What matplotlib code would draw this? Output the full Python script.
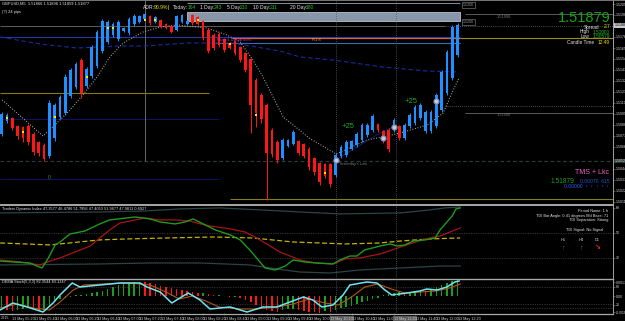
import numpy as np
import matplotlib
matplotlib.use("Agg")
import matplotlib.pyplot as plt
from matplotlib.lines import Line2D
from matplotlib import font_manager

plt.rcParams["font.family"] = ["Liberation Sans", "DejaVu Sans"]
_names = {f.name for f in font_manager.fontManager.ttflist}
NARROW = ["Liberation Sans Narrow" if "Liberation Sans Narrow" in _names else "Liberation Sans",
          "DejaVu Sans"]

W, H = 625, 321
BAR0, STEP = 1.7, 5.3      # pixel x of first bar, pixels per bar
AXR = 613                  # right edge of plotting area (price scale beyond)

# ---------------- price bars (GBPUSD, M5) ----------------
opens = [1.5079, 1.5092, 1.5095, 1.5087, 1.5086, 1.5087, 1.5079, 1.5071, 1.5068, 1.5057,
         1.5075, 1.5096, 1.5100, 1.5117, 1.5126, 1.5153, 1.5127, 1.5137, 1.5147, 1.5162,
         1.5171, 1.5178, 1.5174, 1.5182, 1.5180, 1.5189, 1.5191, 1.5194, 1.5197, 1.5191,
         1.5193, 1.5189, 1.5187, 1.5183, 1.5191, 1.5189, 1.5198, 1.5196, 1.5192, 1.5183,
         1.5178, 1.5179, 1.5174, 1.5170, 1.5172, 1.5166, 1.5160, 1.5154, 1.5133, 1.5118,
         1.5108, 1.5083, 1.5071, 1.5055, 1.5067, 1.5069, 1.5072, 1.5069, 1.5064, 1.5055,
         1.5050, 1.5049, 1.5049, 1.5038, 1.5057, 1.5058, 1.5064, 1.5068, 1.5073, 1.5078,
         1.5083, 1.5089, 1.5082, 1.5083, 1.5083, 1.5087, 1.5075, 1.5087, 1.5090, 1.5095,
         1.5082, 1.5082, 1.5087, 1.5103, 1.5120, 1.5135, 1.5158]
highs = [1.5101, 1.5100, 1.5096, 1.5088, 1.5087, 1.5089, 1.5081, 1.5072, 1.5070, 1.5113,
         1.5110, 1.5118, 1.5139, 1.5145, 1.5151, 1.5155, 1.5146, 1.5168, 1.5183, 1.5194,
         1.5193, 1.5191, 1.5193, 1.5186, 1.5196, 1.5199, 1.5198, 1.5200, 1.5198, 1.5197,
         1.5194, 1.5190, 1.5188, 1.5198, 1.5199, 1.5193, 1.5199, 1.5197, 1.5193, 1.5185,
         1.5180, 1.5181, 1.5175, 1.5171, 1.5173, 1.5167, 1.5161, 1.5155, 1.5135, 1.5120,
         1.5110, 1.5085, 1.5073, 1.5075, 1.5074, 1.5083, 1.5073, 1.5070, 1.5066, 1.5056,
         1.5051, 1.5050, 1.5050, 1.5060, 1.5068, 1.5073, 1.5073, 1.5081, 1.5090, 1.5090,
         1.5099, 1.5090, 1.5083, 1.5085, 1.5095, 1.5088, 1.5090, 1.5100, 1.5108, 1.5110,
         1.5103, 1.5103, 1.5120, 1.5143, 1.5163, 1.5188, 1.5190]
lows = [1.5077, 1.5090, 1.5083, 1.5074, 1.5071, 1.5068, 1.5058, 1.5057, 1.5052, 1.5055,
        1.5072, 1.5094, 1.5098, 1.5115, 1.5124, 1.5115, 1.5125, 1.5135, 1.5145, 1.5160,
        1.5169, 1.5176, 1.5172, 1.5181, 1.5178, 1.5187, 1.5190, 1.5193, 1.5188, 1.5190,
        1.5185, 1.5184, 1.5180, 1.5182, 1.5190, 1.5188, 1.5188, 1.5188, 1.5173, 1.5160,
        1.5163, 1.5166, 1.5161, 1.5164, 1.5158, 1.5151, 1.5141, 1.5080, 1.5086, 1.5090,
        1.5013, 1.5056, 1.5050, 1.5053, 1.5066, 1.5068, 1.5058, 1.5055, 1.5043, 1.5038,
        1.5028, 1.5035, 1.5026, 1.5036, 1.5055, 1.5056, 1.5063, 1.5066, 1.5071, 1.5076,
        1.5081, 1.5081, 1.5070, 1.5061, 1.5081, 1.5073, 1.5073, 1.5085, 1.5088, 1.5093,
        1.5080, 1.5080, 1.5085, 1.5101, 1.5118, 1.5133, 1.5156]
closes = [1.5099, 1.5098, 1.5085, 1.5077, 1.5075, 1.5071, 1.5061, 1.5060, 1.5054, 1.5110,
          1.5108, 1.5116, 1.5136, 1.5143, 1.5149, 1.5120, 1.5144, 1.5166, 1.5181, 1.5192,
          1.5191, 1.5189, 1.5191, 1.5185, 1.5194, 1.5197, 1.5197, 1.5199, 1.5190, 1.5196,
          1.5187, 1.5185, 1.5181, 1.5197, 1.5198, 1.5192, 1.5190, 1.5189, 1.5175, 1.5162,
          1.5165, 1.5168, 1.5163, 1.5165, 1.5160, 1.5153, 1.5143, 1.5108, 1.5100, 1.5094,
          1.5060, 1.5059, 1.5053, 1.5073, 1.5073, 1.5081, 1.5060, 1.5057, 1.5046, 1.5041,
          1.5031, 1.5037, 1.5029, 1.5058, 1.5066, 1.5071, 1.5072, 1.5079, 1.5088, 1.5088,
          1.5097, 1.5083, 1.5072, 1.5064, 1.5093, 1.5075, 1.5088, 1.5098, 1.5106, 1.5108,
          1.5101, 1.5101, 1.5118, 1.5141, 1.5161, 1.5186, 1.51879]

# dotted trailing stop (bar, price) and slow dashed MA (bar, price)
trail_bar = [0.1, 7.8, 10.4, 12.9, 15.3, 18.0, 20.4, 22.9, 26.7, 29.9, 33.1, 38.7, 42.5, 45.0,
             47.4, 49.3, 51.2, 53.1, 55.7, 58.0, 63.1, 68.9, 71.9, 75.2, 80.3, 83.3, 85.2, 86.3]
trail_px = [1.5113, 1.5077, 1.5090, 1.5103, 1.5118, 1.5136, 1.5156, 1.5170, 1.5181, 1.5186,
            1.5188, 1.5185, 1.5178, 1.5171, 1.5153, 1.5136, 1.5116, 1.5096, 1.5085, 1.5075,
            1.5059, 1.5073, 1.5076, 1.5080, 1.5088, 1.5100, 1.5123, 1.5135]
ma_bar = [-0.3, 7.2, 14.2, 22.3, 27.0, 35.0, 43.6, 52.5, 56.3, 62.5, 71.9, 80.2, 86.3]
ma_px = [1.5176, 1.5169, 1.5165, 1.5167, 1.5167, 1.5170, 1.5170, 1.5162, 1.5156, 1.5153,
         1.5146, 1.5142, 1.5141]

# level lines
prev_close = 1.5187
pivot = 1.5176
r1 = 1.5175
pivot_mid = 1.5170
s_level = 1.5120
week_a = 1.5094
yest_low = 1.5052
week_b = 1.5034
day_low = 1.5014
line_hi = 1.5199
line_lo = 1.5100
line_dot = 1.5107
zone_lo, zone_hi = 1.5192, 1.5201

# markers
circle_bar = [63, 72, 74, 82]
circle_px = [1.5053, 1.5075, 1.5086, 1.5112]
plus_bar = [64.2, 76.1]
plus_px = [1.5086, 1.5111]
dot_bar = [1, 4, 10, 16, 20, 21, 27, 29, 37, 43, 48, 61]
dot_px = [1.5095, 1.5081, 1.5096, 1.5136, 1.5185, 1.5185, 1.5193, 1.5193, 1.5193, 1.5169,
          1.5098, 1.5040]

price_ticks = [1.52090, 1.51980, 1.51760, 1.51650, 1.51540, 1.51430, 1.51320,
               1.51210, 1.51100, 1.50990, 1.50880, 1.50770, 1.50660, 1.50440,
               1.50330, 1.50220, 1.50110]

# ---------------- Traders Dynamic Index ----------------
tdi_g_bar = [-0.3, 2.5, 5.3, 7.6, 8.7, 10.1, 11.0, 12.9, 15.7, 18.5, 20.4, 25.2, 28.0, 29.9,
             32.7, 34.6, 36.1, 38.4, 40.3, 43.1, 45.0, 46.8, 48.4, 49.7, 51.6, 53.5, 55.0,
             57.2, 59.5, 62.5, 63.8, 65.7, 67.0, 68.5, 71.4, 73.3, 74.6, 76.1, 77.6, 79.9,
             81.8, 82.7, 84.0, 85.0, 85.7, 86.5]
tdi_green = [29.8, 29.1, 28.4, 24.8, 31.3, 41.4, 43.5, 49.3, 51.4, 56.5, 59.4, 61.5, 60.1,
             57.9, 56.5, 57.9, 60.1, 55.8, 52.2, 48.6, 45.0, 37.8, 30.6, 24.8, 23.4, 26.2,
             30.6, 29.1, 28.4, 27.7, 30.6, 33.4, 33.4, 37.8, 40.6, 42.1, 40.6, 41.4, 44.2,
             45.0, 46.4, 52.2, 57.9, 62.2, 67.3, 68.0]
tdi_r_bar = [-0.3, 3.5, 7.2, 9.1, 11.0, 13.8, 16.7, 18.5, 20.4, 22.3, 24.2, 27.0, 29.9, 32.7,
             35.5, 37.5, 39.3, 43.1, 45.9, 47.8, 49.7, 52.5, 54.4, 56.3, 59.1, 62.5, 64.8,
             67.6, 71.4, 74.2, 77.0, 79.9, 82.7, 84.6, 86.5]
tdi_red = [30.6, 29.1, 27.0, 29.8, 32.0, 36.3, 40.6, 46.4, 52.2, 57.2, 58.6, 60.8, 59.4, 59.4,
           58.6, 56.5, 55.0, 52.9, 50.7, 47.1, 42.8, 36.3, 33.4, 30.6, 28.4, 27.7, 31.3,
           32.0, 34.9, 38.5, 42.1, 45.7, 47.8, 50.7, 53.6]
tdi_y_bar = [-0.3, 9.1, 18.5, 23.6, 31.2, 39.9, 47.4, 55.0, 60.1, 64.8, 71.4, 75.2, 80.8, 86.5]
tdi_yellow = [42.8, 41.4, 45.0, 45.7, 46.4, 47.1, 46.4, 43.5, 42.8, 42.1, 42.8, 44.2, 45.7, 46.4]
band_bar = [-0.3, 18.5, 27.0, 33.6, 41.2, 48.7, 56.3, 63.8, 75.2, 80.8, 83.6, 86.5]
band_up = [64.4, 65.1, 65.8, 67.3, 68.0, 66.6, 65.1, 63.7, 64.4, 66.6, 68.0, 68.7]
band_lo_bar = [-0.3, 18.5, 28.0, 37.4, 46.8, 50.6, 56.3, 62.0, 67.6, 75.2, 82.7, 86.5]
band_lo = [27.0, 27.7, 28.4, 28.4, 27.0, 24.8, 21.9, 21.2, 23.4, 24.8, 26.2, 26.2]

# ---------------- oscillator histogram + signal lines ----------------
hist = [-12, -14, -15, -14, -13, -12, -14, -15, -14, -10,
        -5, -3, -2, -1, 1, 1, 2, 3, 4, 5,
        7, 9, 11, 12, 13, 14, 14.5, 14, 13, 12,
        10, 9, 8, 7, 6, 5, 4, 3, 3, 2,
        1, 1, 0.5, -1, -1, -2, -4, -6, -9, -12,
        -14, -15, -16, -14, -13, -13, -14, -15, -15.5, -16,
        -16.5, -15, -16, -14, -12, -11, -10, -8, -6, -5,
        -3, -2, 1, 2, 3, 4, 3, 4, 5, 6,
        5, 7, 9, 11, 13, 15, 16]
cyan_bar = [-0.3, 2.1, 4.8, 7.8, 9.7, 11.0, 13.3, 14.8, 18.5, 22.3, 26.1, 27.4, 29.9, 32.1,
            33.6, 35.2, 37.4, 39.3, 43.1, 46.3, 49.3, 51.9, 54.4, 56.9, 58.7, 60.4, 62.5,
            64.4, 65.7, 68.9, 70.8, 72.3, 73.6, 76.5, 78.9, 80.2, 82.1, 84.0, 85.5, 86.3]
cyan = [-14, -7, -11, -16, -7, 1, 13, 9, 11, 13, 13, 9, 4, -7, -2, 3, -4, -13, -11, -16,
        -11, -11, -6, -1, -4, -11, -9, 1, 11, 14, 13, 6, 1, 3, 5, 7, 6, 9, 14, 15]
brown_bar = [-0.3, 3.0, 6.0, 9.0, 11.0, 13.5, 15.5, 19.0, 24.0, 28.0, 31.0, 33.5, 36.0, 38.5,
             41.0, 45.0, 48.0, 52.0, 55.0, 58.0, 61.0, 63.5, 66.0, 68.5, 71.0, 73.5, 76.0,
             79.0, 82.0, 84.5, 86.5]
brown = [-12, -8, -12, -14, -6, 6, 11, 12, 13, 11, 4, -3, 0, -5, -11, -13, -13, -11, -8, -3,
         -7, -9, -1, 9, 12, 7, 3, 4, 5, 8, 12]

time_labels = ["13 May 05:20", "13 May 05:40", "13 May 06:00", "13 May 06:20", "13 May 06:40",
               "13 May 07:00", "13 May 07:20", "13 May 07:40", "13 May 08:00", "13 May 08:20",
               "13 May 08:40", "13 May 09:00", "13 May 09:20", "13 May 09:40", "13 May 10:00",
               "13 May 10:20", "13 May 10:40", "13 May 11:00", "13 May 11:20", "13 May 11:40",
               "13 May 12:00", "13 May 12:20"]
boxed_labels = [15, 18]    # period-separator dates shown on a grey box

WHITE, GREEN, YELLOW = "#e6e6e6", "#22c022", "#f2e200"

fig = plt.figure(figsize=(W / 100, H / 100), dpi=100, facecolor="black")


def px2bar(x):
    return (x - BAR0) / STEP


def panel(y0, y1):
    ax = fig.add_axes([0, 1 - y1 / H, AXR / W, (y1 - y0) / H])
    ax.set_facecolor("black")
    ax.set_xlim(px2bar(0), px2bar(AXR))
    for s in ax.spines.values():
        s.set_visible(False)
    ax.set_xticks([])
    ax.yaxis.tick_right()
    ax.tick_params(axis="y", colors="#8a8a8a", labelcolor="#d0d0d0", labelsize=2.6,
                   length=1.2, width=0.4, pad=0.6)
    return ax


def narrow_ticks(a, axis="y"):
    labs = a.get_yticklabels() if axis == "y" else a.get_xticklabels()
    for t in labs:
        t.set_family(NARROW)


def ftext(x, y, s, **kw):
    kw.setdefault("va", "center")
    kw.setdefault("fontsize", 3.2)
    kw.setdefault("color", WHITE)
    fig.text(x / W, 1 - y / H, s, **kw)


def fline(xs, ys, **kw):
    fig.add_artist(Line2D([x / W for x in xs], [1 - y / H for y in ys], **kw))


# ================= main price panel =================
ax = panel(0, 204)
ax.set_ylim(1.5009, 1.5213)
ax.set_yticks(price_ticks)
ax.set_yticklabels([f"{t:.4f}" for t in price_ticks])
narrow_ticks(ax)

o, h, l, c = map(np.array, (opens, highs, lows, closes))
idx = np.arange(len(o))
col = np.where(c >= o, "#1e90ff", "#ff1616")

# level lines
ax.hlines(prev_close, px2bar(0), px2bar(445), color="#5c5c5c", lw=0.7)
ax.hlines(prev_close, px2bar(445), px2bar(AXR), color="#6a6a6a", lw=0.6, ls=(0, (1, 1.5)))
ax.hlines(pivot, px2bar(0), px2bar(460), color="#2438a8", lw=0.8)
ax.hlines(r1, px2bar(232), px2bar(460), color="#e0603a", lw=0.9)
ax.hlines(r1, px2bar(460), px2bar(AXR), color="#a08a10", lw=0.8)
ax.hlines(pivot_mid, px2bar(215), px2bar(460), color="#2f6fb8", lw=0.8)
ax.hlines(s_level, px2bar(0), px2bar(209), color="#8a7a14", lw=0.8)
ax.hlines(week_a, px2bar(0), px2bar(219), color="#14147a", lw=0.6)
ax.hlines(week_b, px2bar(0), px2bar(219), color="#14147a", lw=0.6)
ax.hlines(yest_low, px2bar(0), px2bar(AXR), color="#2a3a38", lw=0.9, ls=(0, (3, 2)))
ax.hlines(day_low, px2bar(230), px2bar(AXR), color="#8a7a14", lw=0.8)
ax.hlines(line_hi, px2bar(465), px2bar(AXR), color="#6a6a6a", lw=0.6)
ax.hlines(line_lo, px2bar(465), px2bar(AXR), color="#6a6a6a", lw=0.6)
ax.hlines(line_dot, px2bar(445), px2bar(AXR), color="#6a6a6a", lw=0.6, ls=(0, (1, 1.5)))
ax.vlines(px2bar(145), yest_low, 1.5213, color="#6a6a6a", lw=0.7)
ax.fill_between([px2bar(187), px2bar(460)], zone_lo, zone_hi, facecolor="#8796a8",
                edgecolor="#b8c2cf", lw=0.6, zorder=1)
ax.hlines(1.52105, px2bar(187), px2bar(460), color="#9aa6b4", lw=0.6)

# moving averages
ax.plot(ma_bar, ma_px, color="#1a2aa0", lw=0.8, ls=(0, (4, 2.5)))
ax.plot(trail_bar, trail_px, color="#b4b4b4", lw=0.8, ls=(0, (0.8, 1.6)))
ax.plot(circle_bar[:3], [circle_px[0], circle_px[2] - 0.0004, circle_px[2]], color="#1a2a90", lw=0.5)

# candles
ax.vlines(idx, l, h, colors=col, lw=0.7, zorder=3)
ax.bar(idx, np.abs(c - o), bottom=np.minimum(o, c), width=0.5, color=col, zorder=3)

ax.scatter(dot_bar, dot_px, marker="s", s=2.5, color="#ffe600", zorder=4, lw=0)
ax.scatter(circle_bar, circle_px, s=14, facecolor="#c9c9c9", edgecolor="#6f86c0",
           lw=0.8, zorder=5)
for xb, yp in zip(plus_bar, plus_px):
    ax.text(xb, yp, "+25", color="#26a826", fontsize=5.5, va="center", ha="left", zorder=6)
ax.text(circle_bar[0] + 0.6, yest_low - 0.0003, "Yesterday's Low", color="#7a7a7a",
        fontsize=2.8, va="center")
ax.text(px2bar(217), r1 - 0.0002, "Pivot 1.51728 50%", color="#d030d0", fontsize=3,
        va="center")
ax.text(px2bar(312), r1 - 0.0002, "R1 8", color="#e0a030", fontsize=3, va="center")
ax.text(px2bar(49), 1.5035, "0", color="#22a022", fontsize=3.5, va="center", ha="center")
ax.text(px2bar(497), line_hi - 0.00025, "1.51990", color="#7a7a7a", fontsize=2.8, va="center")
ax.text(px2bar(497), line_lo - 0.00025, "1.51000", color="#7a7a7a", fontsize=2.8, va="center")
for yp in (zone_hi + 0.0007, zone_lo - 0.0001):
    ax.text(px2bar(463), yp, "1.5200", color="#9a9a9a", fontsize=2.6, va="center",
            bbox=dict(boxstyle="square,pad=0.15", fc="black", ec="#8a8a8a", lw=0.4))
ax.text(px2bar(614.5), closes[-1], f"{closes[-1]:.4f}", color="black", fontsize=2.6,
        va="center", clip_on=False, family=NARROW,
        bbox=dict(boxstyle="square,pad=0.12", fc="#c8c8c8", ec="none"))
ax.text(px2bar(614.5), yest_low, f"{yest_low:.4f}", color="#d0d0d0", fontsize=2.6,
        va="center", clip_on=False, family=NARROW,
        bbox=dict(boxstyle="square,pad=0.12", fc="#2a3a38", ec="none"))

# ================= TDI panel =================
ax2 = panel(206, 278)
ax2.set_ylim(17.6, 69.4)
ax2.set_yticks([68, 50, 32])
narrow_ticks(ax2)
for lv in (50, 32):
    ax2.axhline(lv, color="#5a5a5a", lw=0.5, ls=(0, (1, 1.5)))
ax2.plot(band_bar, band_up, color="#2c4444", lw=0.9)
ax2.plot(band_lo_bar, band_lo, color="#2c4444", lw=0.9)
ax2.plot(tdi_y_bar, tdi_yellow, color="#c8b400", lw=0.9, ls=(0, (4, 2)))
ax2.plot(tdi_r_bar, tdi_red, color="#a81414", lw=0.9)
ax2.plot(tdi_g_bar, tdi_green, color="#1f9a1f", lw=1.0)

# ================= oscillator panel =================
ax3 = panel(280, 313)
ax3.set_ylim(-17, 16)
ax3.set_yticks([14, 9, 0, -9, -16])
ax3.set_yticklabels(["0.0017", "80", "0.00", "20", "-0.002"])
narrow_ticks(ax3)
for lv in (9, -8, -12):
    ax3.axhline(lv, color="#5a5a5a", lw=0.5, ls=(0, (1, 1.5)))
hv = np.array(hist, dtype=float)
hcol = ["#ff1616" if i > 0 and hv[i] < hv[i - 1] else "#18a018" for i in range(len(hv))]
ax3.bar(np.arange(len(hv)), hv, width=0.28, color=hcol)
ax3.plot(brown_bar, brown, color="#b0561a", lw=0.8)
ax3.plot(cyan_bar, cyan, color="#6ee6f2", lw=1.1)

# time axis
ax3.set_xticks(range(2, 88, 4))
ax3.set_xticklabels(time_labels)
ax3.tick_params(axis="x", colors="#8a8a8a", labelcolor="#d0d0d0", labelsize=2.7,
                length=1.2, width=0.4, pad=1.6)
for k, t in enumerate(ax3.get_xticklabels()):
    t.set_ha("left")
    t.set_family(NARROW)
    if k in boxed_labels:
        t.set_bbox(dict(boxstyle="square,pad=0.15", fc="#5a5a5a", ec="none"))

# period separators through all panels
for a in (ax, ax2, ax3):
    for xb in (px2bar(336), px2bar(396)):
        a.axvline(xb, color="#5e5e5e", lw=0.6, ls=(0, (1, 1.5)))

# ================= frame lines =================
fline([0, AXR], [204.5, 204.5], color="#a8a8a8", lw=1.4)
fline([0, AXR], [279.3, 279.3], color="#a8a8a8", lw=1.0)
fline([0, AXR], [313.5, 313.5], color="#a8a8a8", lw=0.9)
fline([AXR, AXR], [0, 314], color="#a0a0a0", lw=0.7)
fline([0, W], [0.4, 0.4], color="#8a8a8a", lw=0.6)
ftext(0.5, 318, "2015", fontsize=2.7, color="#d0d0d0", family=NARROW)

# ================= texts =================
ftext(2, 3.5, "GBPUSD,M5  1.51866 1.51896 1.51859 1.51877", fontsize=2.9)
ftext(2, 12, "(?) 24 pips", fontsize=2.9)
hdr = [(143, "ADR:", WHITE), (154, "90.9%", YELLOW), (168, "|", WHITE),
       (173, "Today:", WHITE), (188, "164", GREEN), (200, "1 Day:", WHITE),
       (214, "243", GREEN), (227, "5 Day:", WHITE), (240, "210", GREEN),
       (253, "10 Day:", WHITE), (270, "211", GREEN), (290, "20 Day:", WHITE),
       (306, "180", GREEN)]
for x, s, cl in hdr:
    ftext(x, 7.5, s, fontsize=3.6, color=cl, family=NARROW)

ftext(611, 18.5, f"{closes[-1]:.5f}", fontsize=10.5, color="#13a313", ha="right")
ftext(599, 27, "Spread", fontsize=3.4, ha="right")
ftext(610, 27, "2.7", fontsize=3.4, ha="right", color=YELLOW)
ftext(589, 32, "High", fontsize=3.4, ha="right")
ftext(610, 32, f"{max(highs):.5f}", fontsize=3.4, ha="right", color=GREEN)
ftext(589, 37, "Low", fontsize=3.4, ha="right")
ftext(610, 37, "1.50579", fontsize=3.4, ha="right", color=GREEN)
ftext(594, 42, "Candle Time", fontsize=3.4, ha="right")
ftext(610, 42, "12:49", fontsize=3.4, ha="right", color=YELLOW)

ftext(609, 173, "TMS + Lkc", fontsize=5, ha="right", color="#f060c8")
ftext(574, 181.5, f"{closes[-1]:.5f}", fontsize=4.8, ha="right", color="#1f9a1f")
ftext(609, 181.5, "0.00070  615", fontsize=3.6, ha="right", color="#2456d0")
ftext(609, 186.5, "0.00000  ↑  ↑  ↑  ↑  ↑", fontsize=3.6, ha="right", color="#2a5cff")

ftext(2, 209, "Traders Dynamic Index 47.3577 46.4786 51.7956 47.4053 51.9677 47.9811 0.6927",
      fontsize=2.8)
ftext(608, 211, "Period Name: 1 h", fontsize=2.8, ha="right")
ftext(608, 215.5, "TDI Bar Angle: 0.41 degrees Md Base: 71", fontsize=2.8, ha="right")
ftext(608, 220, "TDI Separation: Strong", fontsize=2.8, ha="right")
ftext(585, 230, "TDI Signal: No Signal", fontsize=2.8, ha="center")
for x, s in ((563, "H1"), (581, "H4"), (597, "D1")):
    ftext(x, 240, s, fontsize=2.8, ha="center")
ftext(563, 248, "↑", fontsize=5, ha="center", color="#1f9a1f", fontweight="bold")
ftext(581, 248, "↑", fontsize=5, ha="center", color="#1f9a1f", fontweight="bold")
ftext(597, 248, "↘", fontsize=5, ha="center", color="#ff2020", fontweight="bold")
ftext(2, 282.5, "DEMA Stoch(5,3,3) 82.3544 83.1247", fontsize=2.8)

fig.savefig("out.png", dpi=100, facecolor="black")
